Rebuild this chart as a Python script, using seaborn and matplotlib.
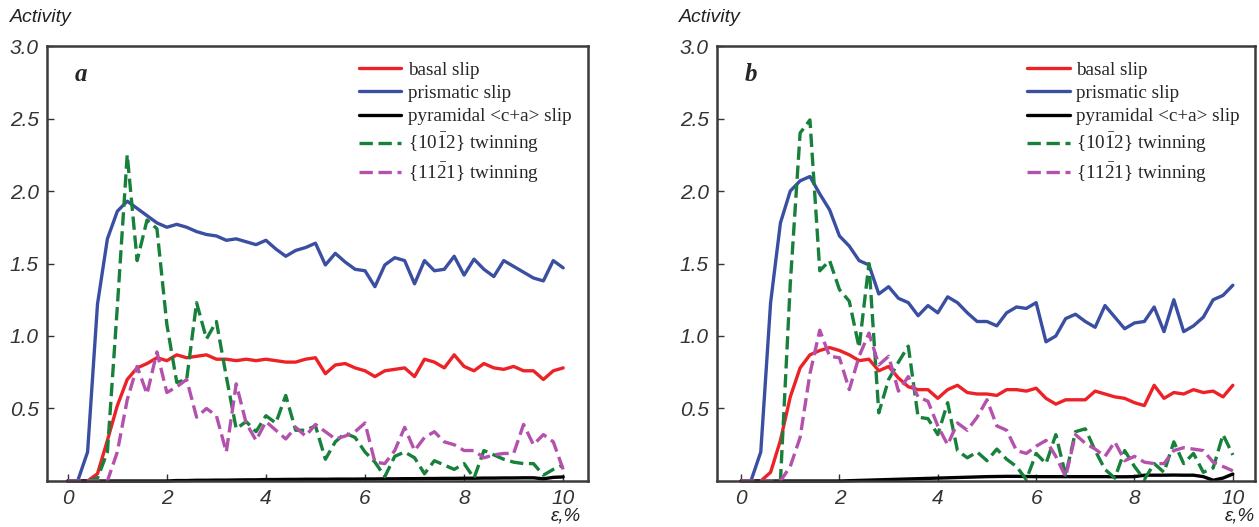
import numpy as np
import pandas as pd
import seaborn as sns
import matplotlib.pyplot as plt

sns.set_theme(style="white")
plt.rcParams["font.family"] = ["Liberation Sans", "DejaVu Sans"]
plt.rcParams["mathtext.fontset"] = "custom"
plt.rcParams["mathtext.rm"] = "Liberation Serif"
plt.rcParams["mathtext.it"] = "Liberation Serif:italic"

# strain, %
eps = [0.0, 0.2, 0.4, 0.6, 0.8, 1.0, 1.2, 1.4, 1.6, 1.8, 2.0,
       2.2, 2.4, 2.6, 2.8, 3.0, 3.2, 3.4, 3.6, 3.8, 4.0,
       4.2, 4.4, 4.6, 4.8, 5.0, 5.2, 5.4, 5.6, 5.8, 6.0,
       6.2, 6.4, 6.6, 6.8, 7.0, 7.2, 7.4, 7.6, 7.8, 8.0,
       8.2, 8.4, 8.6, 8.8, 9.0, 9.2, 9.4, 9.6, 9.8, 10.0]

# panel a
basal_a = [0, 0, 0, 0.05, 0.28, 0.52, 0.70, 0.78, 0.81, 0.85, 0.83,
           0.87, 0.85, 0.86, 0.87, 0.84, 0.84, 0.83, 0.84, 0.83, 0.84,
           0.83, 0.82, 0.82, 0.84, 0.85, 0.74, 0.80, 0.81, 0.78, 0.76,
           0.72, 0.76, 0.77, 0.78, 0.72, 0.84, 0.82, 0.78, 0.87, 0.79,
           0.76, 0.81, 0.78, 0.77, 0.79, 0.76, 0.76, 0.70, 0.76, 0.78]
prism_a = [0, 0, 0.20, 1.22, 1.67, 1.86, 1.93, 1.88, 1.83, 1.78, 1.75,
           1.77, 1.75, 1.72, 1.70, 1.69, 1.66, 1.67, 1.65, 1.63, 1.66,
           1.60, 1.55, 1.59, 1.61, 1.64, 1.49, 1.57, 1.51, 1.46, 1.45,
           1.34, 1.49, 1.54, 1.52, 1.36, 1.52, 1.45, 1.46, 1.55, 1.42,
           1.53, 1.46, 1.41, 1.52, 1.48, 1.44, 1.40, 1.38, 1.52, 1.47]
pyr_a = [0, 0, 0, 0, 0, 0, 0, 0, 0, 0, 0,
         0.003, 0.003, 0.005, 0.005, 0.006, 0.006, 0.007, 0.008, 0.008, 0.010,
         0.010, 0.011, 0.011, 0.012, 0.012, 0.012, 0.013, 0.013, 0.013, 0.014,
         0.014, 0.015, 0.015, 0.016, 0.016, 0.017, 0.017, 0.018, 0.018, 0.019,
         0.019, 0.020, 0.020, 0.021, 0.021, 0.022, 0.022, 0.015, 0.025, 0.028]
tw1012_a = [0, 0, 0, 0.02, 0.20, 1.20, 2.25, 1.52, 1.80, 1.74, 1.08,
            0.68, 0.70, 1.23, 0.98, 1.10, 0.72, 0.36, 0.41, 0.34, 0.45,
            0.40, 0.59, 0.35, 0.35, 0.38, 0.15, 0.27, 0.33, 0.30, 0.20,
            0.13, 0.03, 0.17, 0.20, 0.16, 0.05, 0.14, 0.11, 0.08, 0.12,
            0.02, 0.21, 0.18, 0.15, 0.13, 0.12, 0.12, 0.04, 0.08, 0.11]
tw1121_a = [0, 0, 0, 0, 0, 0.20, 0.56, 0.79, 0.60, 0.89, 0.61,
            0.65, 0.70, 0.44, 0.50, 0.45, 0.20, 0.67, 0.40, 0.28, 0.41,
            0.35, 0.29, 0.37, 0.31, 0.39, 0.34, 0.29, 0.31, 0.34, 0.40,
            0.13, 0.12, 0.21, 0.37, 0.21, 0.30, 0.34, 0.27, 0.25, 0.21,
            0.21, 0.16, 0.18, 0.19, 0.19, 0.39, 0.25, 0.32, 0.27, 0.08]

# panel b
basal_b = [0, 0, 0, 0.06, 0.28, 0.58, 0.78, 0.87, 0.90, 0.92, 0.90,
           0.87, 0.83, 0.84, 0.76, 0.79, 0.71, 0.65, 0.63, 0.63, 0.57,
           0.63, 0.66, 0.61, 0.60, 0.60, 0.59, 0.63, 0.63, 0.62, 0.64,
           0.57, 0.53, 0.56, 0.56, 0.56, 0.62, 0.60, 0.58, 0.57, 0.54,
           0.52, 0.66, 0.57, 0.61, 0.60, 0.63, 0.61, 0.62, 0.58, 0.66]
prism_b = [0, 0, 0.20, 1.23, 1.78, 2.00, 2.07, 2.10, 1.98, 1.87, 1.69,
           1.62, 1.52, 1.49, 1.29, 1.34, 1.26, 1.23, 1.14, 1.21, 1.16,
           1.27, 1.23, 1.16, 1.10, 1.10, 1.07, 1.16, 1.20, 1.19, 1.23,
           0.96, 1.00, 1.12, 1.15, 1.10, 1.06, 1.21, 1.13, 1.05, 1.09,
           1.10, 1.20, 1.03, 1.25, 1.03, 1.07, 1.13, 1.25, 1.28, 1.35]
pyr_b = [0, 0, 0, 0, 0, 0, 0, 0, 0, 0, 0,
         0.002, 0.004, 0.006, 0.008, 0.010, 0.012, 0.014, 0.016, 0.018, 0.020,
         0.022, 0.024, 0.026, 0.028, 0.030, 0.031, 0.032, 0.032, 0.031, 0.030,
         0.030, 0.030, 0.030, 0.030, 0.030, 0.030, 0.030, 0.029, 0.029, 0.030,
         0.040, 0.040, 0.040, 0.041, 0.040, 0.040, 0.030, 0.005, 0.020, 0.048]
tw1012_b = [0, 0, 0, 0, 0, 1.36, 2.40, 2.49, 1.45, 1.52, 1.32,
            1.24, 0.92, 1.50, 0.47, 0.70, 0.82, 0.93, 0.44, 0.43, 0.32,
            0.54, 0.21, 0.16, 0.20, 0.14, 0.22, 0.15, 0.10, 0.01, 0.19,
            0.12, 0.32, 0.04, 0.34, 0.36, 0.21, 0.08, 0.02, 0.21, 0.10,
            0.01, 0.12, 0.06, 0.27, 0.12, 0.19, 0.06, 0.09, 0.32, 0.18]
tw1121_b = [0, 0, 0, 0, 0, 0.10, 0.30, 0.74, 1.04, 0.86, 0.85,
            0.63, 0.86, 1.02, 0.80, 0.86, 0.62, 0.72, 0.58, 0.55, 0.38,
            0.25, 0.40, 0.35, 0.44, 0.56, 0.38, 0.35, 0.21, 0.19, 0.24,
            0.28, 0.17, 0.03, 0.32, 0.26, 0.22, 0.17, 0.27, 0.14, 0.17,
            0.13, 0.12, 0.12, 0.21, 0.23, 0.22, 0.21, 0.13, 0.10, 0.07]

labels = ["basal slip", "prismatic slip", "pyramidal <c+a> slip",
          r"{10$\bar{\mathrm{1}}$2} twinning", r"{11$\bar{\mathrm{2}}$1} twinning"]
colors = ["#ec2226", "#3a4ea2", "#000000", "#17803a", "#b451ad"]
styles = ["-", "-", "-", (0, (4, 1.7)), (0, (4, 1.7))]

panels = [
    ("a", [basal_a, prism_a, pyr_a, tw1012_a, tw1121_a], [0.0373, 0.0873, 0.4297, 0.8254], (-0.42, 10.5)),
    ("b", [basal_b, prism_b, pyr_b, tw1012_b, tw1121_b], [0.5695, 0.0873, 0.4273, 0.8254], (-0.49, 10.45)),
]

fig = plt.figure(figsize=(12.59, 5.27), dpi=100)

for name, series, rect, xlim in panels:
    ax = fig.add_axes(rect)
    for vals, lab, c, ls in zip(series, labels, colors, styles):
        sns.lineplot(x=eps, y=vals, ax=ax, color=c, linestyle=ls, lw=2.4,
                     label=lab, clip_on=False)
    ax.set_xlim(*xlim)
    ax.set_ylim(0, 3.0)
    ax.set_xticks([0, 2, 4, 6, 8, 10])
    ax.set_xticklabels(["0", "2", "4", "6", "8", "10"])
    ax.set_yticks([0.5, 1.0, 1.5, 2.0, 2.5, 3.0])
    ax.set_yticklabels(["0.5", "1.0", "1.5", "2.0", "2.5", "3.0"])
    ax.tick_params(direction="in", length=5, width=1, colors="#333333",
                   labelsize=15, pad=6, left=True, bottom=True)
    for t in ax.get_xticklabels() + ax.get_yticklabels():
        t.set_fontstyle("italic")
    for sp in ax.spines.values():
        sp.set_color("#3a3a3a")
        sp.set_linewidth(1.8)
    ax.set_xlabel("")
    ax.set_ylabel("")
    ax.text(0.052, 0.935, name, transform=ax.transAxes, fontsize=18,
            fontweight="bold", fontstyle="italic", family="Liberation Serif",
            ha="left", va="center")
    ax.legend(loc="upper left", bbox_to_anchor=(0.552, 0.995), frameon=False,
              prop={"family": "Liberation Serif", "size": 13.8},
              handlelength=2.2, handletextpad=0.35, labelspacing=0.3,
              borderpad=0.2)

fig.text(10 / 1259, 1 - 18 / 527, "Activity", fontsize=14, fontstyle="italic",
         color="#222222", ha="left", va="center")
fig.text(679 / 1259, 1 - 18 / 527, "Activity", fontsize=14, fontstyle="italic",
         color="#222222", ha="left", va="center")
fig.text(566 / 1259, 1 - 516 / 527, "ε,%", fontsize=13.5, fontstyle="italic",
         color="#222222", ha="center", va="center")
fig.text(1240 / 1259, 1 - 516 / 527, "ε,%", fontsize=13.5, fontstyle="italic",
         color="#222222", ha="center", va="center")

fig.savefig("out.png", dpi=100)
